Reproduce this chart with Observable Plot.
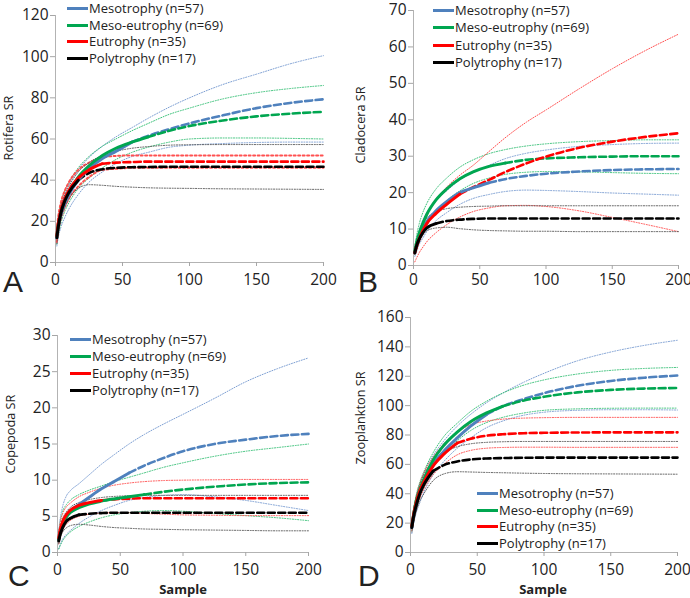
<!DOCTYPE html>
<html>
<head>
<meta charset="utf-8">
<script src="https://cdn.jsdelivr.net/npm/d3@7"></script>
<script src="https://cdn.jsdelivr.net/npm/@observablehq/plot@0.6"></script>
<style>
  html, body { margin: 0; padding: 0; background: #fff; }
  #root { position: relative; width: 690px; height: 598px; font-family: "Open Sans", sans-serif; color: #222; overflow: hidden; }
  .abs { position: absolute; white-space: nowrap; }
  .ytitle { font-size: 12.7px; transform: translate(-50%, -50%) rotate(-90deg); }
  .letter { font-family: "Liberation Sans", Arial, sans-serif; font-size: 30px; line-height: 30px; }
  .xtitle { font-size: 13px; font-weight: bold; transform: translateX(-50%); }
  .leg { display: flex; align-items: center; height: 16px; line-height: 16px; }
  .leg span.l { display: inline-block; width: 21px; height: 3px; margin-right: 1px; }
  .leg span.t { font-size: 13px; }
</style>
</head>
<body>
<div id="root"></div>
<script>
// ---------- data ----------
const sample = [1, 2, 4, 7, 10, 17, 25, 35, 45, 57, 69, 85, 100, 125, 150, 175, 200];
const trophy = ["Mesotrophy (n=57)", "Meso-eutrophy (n=69)", "Eutrophy (n=35)", "Polytrophy (n=17)"];
const nObs = [57, 69, 35, 17];
const xTicks = [0, 50, 100, 150, 200];

// Panel A — Rotifera SR
const rotMeso     = [12, 17, 23, 29, 33, 40, 45.5, 50.5, 54, 58.5, 61.5, 64.8, 67.6, 71.5, 75, 77.5, 79.3];
const rotMesoLo   = [8, 12, 17, 22, 26, 33, 39, 44, 48, 51.5, 53.5, 56, 57, 57.8, 58.3, 58.5, 58.5];
const rotMesoHi   = [15, 21, 28, 34, 38, 45, 51, 56.5, 61, 65.5, 70, 75.5, 80, 86.5, 91.5, 96.5, 100.5];
const rotMesoEu   = [13, 18, 24.5, 30.5, 34.5, 41.5, 47, 52, 55.5, 58.5, 61, 64, 66.3, 69, 71, 72.3, 73.2];
const rotMesoEuLo = [9, 13, 19, 25, 29, 36, 41, 46, 50, 53.5, 56, 58.5, 60, 60.5, 60.5, 60.3, 60];
const rotMesoEuHi = [16, 22, 29, 35, 39, 46, 51.5, 56.5, 60, 64, 67.5, 72, 75, 79.5, 82.5, 84.5, 86];
const rotEu       = [13, 18.5, 25, 31, 35, 41, 45, 48, 48.5, 48.8, 49, 49, 49, 49, 49, 49, 49];
const rotEuLo     = [10, 15, 21, 27, 31, 37, 41.5, 45, 45.5, 46, 46, 46, 46, 46, 46, 46, 46];
const rotEuHi     = [16, 22, 29, 35, 39, 45, 48.5, 51, 51.8, 52, 52, 52, 52, 52, 52, 52, 52];
const rotPoly     = [12, 17, 24, 30, 34, 40, 43.5, 45.3, 46, 46.3, 46.4, 46.5, 46.5, 46.5, 46.5, 46.5, 46.5];
const rotPolyLo   = [9, 14, 21, 27, 31, 36, 37.8, 37.5, 37, 36.6, 36.3, 36.1, 36, 35.8, 35.7, 35.6, 35.5];
const rotPolyHi   = [15, 20, 27, 33, 37, 44, 48.5, 52, 54, 55.5, 56.3, 57, 57.2, 57.3, 57.3, 57.3, 57.3];

// Panel B — Cladocera SR
const claMeso     = [3.5, 5, 7.5, 10, 12, 15, 17.5, 20, 21.3, 22.7, 23.7, 24.6, 25.2, 25.8, 26.2, 26.4, 26.5];
const claMesoLo   = [2.5, 3.5, 5.5, 7.5, 9.3, 12.3, 14.5, 16.8, 18.4, 19.5, 20.3, 20.7, 20.6, 20.3, 19.9, 19.6, 19.3];
const claMesoHi   = [4.5, 6.5, 9.5, 12.5, 14.5, 18, 20.5, 23.5, 25.5, 27.5, 29.3, 30.8, 31.7, 32.7, 33.2, 33.5, 33.6];
const claMesoEu   = [4, 5.8, 8.5, 11.5, 14, 18, 21, 23.8, 25.7, 27.2, 28.1, 29, 29.4, 29.7, 29.9, 30, 30];
const claMesoEuLo = [3, 4.5, 6.5, 9, 11, 14.7, 17.8, 20.5, 22.5, 24, 25, 25.6, 25.8, 25.7, 25.5, 25.3, 25.2];
const claMesoEuHi = [5, 7.5, 11, 14.5, 17, 21, 24, 27, 29, 30.7, 31.8, 32.8, 33.4, 34, 34.3, 34.5, 34.5];
const claEu       = [3.5, 4.8, 7, 9.5, 11.5, 14.3, 16.8, 19.6, 21.5, 23.5, 25.6, 28, 29.9, 32.3, 34, 35.3, 36.3];
const claEuLo     = [1, 1.8, 3.3, 5, 6.5, 9, 11.2, 13.3, 14.8, 15.8, 16.4, 16.5, 16.2, 15, 13.2, 11.3, 9.3];
const claEuHi     = [3.5, 5.5, 8.5, 11.5, 14, 18, 21.5, 24.8, 27.5, 31.3, 35, 39.3, 42.7, 48.5, 54, 59, 63.5];
const claPoly     = [3.5, 5, 7, 9, 10.3, 11.5, 12.2, 12.6, 12.8, 12.9, 12.9, 12.9, 12.9, 12.9, 12.9, 12.9, 12.9];
const claPolyLo   = [3, 4.3, 6, 8.3, 9.5, 10.3, 10.5, 10.1, 9.8, 9.6, 9.5, 9.4, 9.4, 9.3, 9.3, 9.3, 9.3];
const claPolyHi   = [4, 6, 9, 11.5, 13, 14.8, 15.6, 16, 16.2, 16.3, 16.4, 16.4, 16.4, 16.4, 16.4, 16.4, 16.4];

// Panel C — Copepoda SR
const copMeso     = [1.8, 2.7, 3.9, 5, 5.7, 6.6, 7.6, 8.8, 9.8, 11, 12, 13.1, 14, 15, 15.6, 16.1, 16.4];
const copMesoLo   = [0.5, 1, 1.8, 2.5, 3, 4, 4.9, 5.8, 6.5, 7.2, 7.6, 7.9, 8, 7.7, 7.2, 6.5, 5.8];
const copMesoHi   = [3, 4.5, 6.3, 7.8, 8.5, 9.5, 10.7, 12.2, 13.5, 15, 16.3, 17.8, 19.1, 21.3, 23.6, 25.4, 26.9];
const copMesoEu   = [1.8, 2.7, 3.9, 4.9, 5.5, 6.2, 6.7, 7.1, 7.4, 7.7, 8, 8.4, 8.7, 9.1, 9.4, 9.6, 9.7];
const copMesoEuLo = [0.5, 0.9, 1.6, 2.3, 2.8, 3.6, 4.2, 4.8, 5.2, 5.5, 5.7, 5.8, 5.7, 5.4, 5.1, 4.8, 4.4];
const copMesoEuHi = [2.8, 4, 5.6, 6.6, 7.2, 8, 8.6, 9.2, 9.8, 10.4, 11, 11.8, 12.4, 13.3, 14, 14.5, 15];
const copEu       = [2, 3, 4.2, 5.2, 5.8, 6.5, 6.9, 7.2, 7.35, 7.45, 7.5, 7.5, 7.5, 7.5, 7.5, 7.5, 7.5];
const copEuLo     = [1.2, 2, 3, 3.9, 4.4, 5, 5.3, 5.45, 5.5, 5.5, 5.4, 5.3, 5.2, 5.15, 5.1, 5.1, 5.1];
const copEuHi     = [2.8, 4, 5.3, 6.3, 6.8, 7.7, 8.3, 8.9, 9.3, 9.6, 9.8, 9.95, 10, 10.05, 10.1, 10.1, 10.1];
const copPoly     = [1.6, 2.4, 3.4, 4.3, 4.7, 5.2, 5.35, 5.45, 5.5, 5.5, 5.5, 5.5, 5.5, 5.5, 5.5, 5.5, 5.5];
const copPolyLo   = [1.2, 2, 2.8, 3.4, 3.7, 3.9, 3.8, 3.6, 3.45, 3.35, 3.25, 3.2, 3.15, 3.1, 3.05, 3, 3];
const copPolyHi   = [2.2, 3.3, 4.6, 5.6, 6.2, 6.9, 7.3, 7.6, 7.75, 7.85, 7.9, 7.9, 7.9, 7.9, 7.9, 7.9, 7.9];

// Panel D — Zooplankton SR
const zooMeso     = [17, 23, 32, 41, 48, 60, 69, 78, 86, 94, 99.5, 104.5, 108.5, 113.5, 116.8, 119, 120.5];
const zooMesoLo   = [13, 18, 26, 34, 41, 53, 62, 71, 78, 85, 89.5, 93.5, 95.5, 96.8, 97.2, 97.2, 97];
const zooMesoHi   = [20, 27, 37, 47, 54, 66, 76, 86, 94, 102, 108.5, 116, 122, 130.5, 136.5, 141, 144.5];
const zooMesoEu   = [18, 24, 34, 43, 50, 63, 73, 82, 89, 95, 99.5, 103.5, 106, 109, 110.7, 111.6, 112];
const zooMesoEuLo = [15, 20, 29, 38, 45, 58, 67, 76, 83, 88.5, 92, 95, 96.8, 97.8, 98.2, 98.3, 98.3];
const zooMesoEuHi = [21, 28, 38, 48, 55, 68, 79, 88, 96, 103, 108.5, 114, 117.5, 121.5, 124, 125.3, 126];
const zooEu       = [18, 24, 33, 42, 48, 59, 67, 74.5, 77.5, 79.5, 80.5, 81.2, 81.5, 81.7, 81.8, 81.8, 81.8];
const zooEuLo     = [15, 20, 28, 37, 43, 53, 60, 66.5, 69.5, 71, 71.5, 71.7, 71.7, 71.6, 71.6, 71.6, 71.6];
const zooEuHi     = [20, 27, 37, 47, 54, 65, 74, 82, 87, 89.5, 90.8, 91.5, 91.8, 92, 92, 92, 92];
const zooPoly     = [17, 23, 31, 40, 46, 55.5, 59.5, 62, 63.3, 64, 64.3, 64.5, 64.6, 64.6, 64.6, 64.6, 64.6];
const zooPolyLo   = [14, 19, 27, 35, 40, 49, 53.5, 55, 54.8, 54.5, 54.3, 54, 53.8, 53.6, 53.5, 53.4, 53.3];
const zooPolyHi   = [20, 27, 36, 46, 53, 62, 68, 72, 74, 75, 75.4, 75.6, 75.6, 75.6, 75.6, 75.6, 75.6];

const yTicksA = [0, 20, 40, 60, 80, 100, 120];
const yTicksB = [0, 10, 20, 30, 40, 50, 60, 70];
const yTicksC = [0, 5, 10, 15, 20, 25, 30];
const yTicksD = [0, 20, 40, 60, 80, 100, 120, 140, 160];

// ---------- styles ----------
const colors   = ["#4f81bd", "#00a650", "#ff0000", "#000000"];
const ciColors = ["#7d9fd3", "#3cc27a", "#ff5050", "#5a5a5a"];

const root = document.getElementById("root");
const rows = arr => sample.map((x, i) => ({x, y: arr[i]}));

function panel(cfg) {
  const marks = [
    Plot.ruleX([0], {stroke: "#b3b3b3"}),
    Plot.ruleY([0], {stroke: "#b3b3b3"})
  ];
  cfg.series.forEach((s, i) => {
    const w = (cfg.redCiWide && i === 2) ? 2 : 1;
    const dash = (cfg.redCiWide && i === 2) ? "2,2.5" : "1,1.6";
    for (const b of [s[1], s[2]]) {
      marks.push(Plot.line(rows(b), {x: "x", y: "y", stroke: ciColors[i], strokeWidth: w, strokeDasharray: dash, curve: "monotone-x"}));
    }
  });
  cfg.series.forEach((s, i) => {
    marks.push(Plot.line(rows(s[0]).filter(d => d.x >= nObs[i]), {x: "x", y: "y", stroke: colors[i], strokeWidth: 2.6, strokeDasharray: "7,3.5", curve: "monotone-x"}));
  });
  cfg.series.forEach((s, i) => {
    marks.push(Plot.line(rows(s[0]).filter(d => d.x <= nObs[i]), {x: "x", y: "y", stroke: colors[i], strokeWidth: 3, curve: "monotone-x"}));
  });
  marks.push(Plot.axisY({ticks: cfg.yTicks, tickSize: 5, tickPadding: 2, stroke: "#a6a6a6", fill: "#222", fontSize: 15.5, label: null, tickFormat: d => String(d)}));
  marks.push(Plot.axisX({ticks: xTicks, tickSize: 4, tickPadding: cfg.padX, stroke: "#a6a6a6", fill: "#222", fontSize: 15.5, label: null, tickFormat: d => String(d)}));

  const svg = Plot.plot({
    width: cfg.w, height: cfg.h,
    marginLeft: cfg.ml, marginRight: cfg.mr, marginTop: cfg.mt, marginBottom: cfg.mb,
    x: {domain: [0, 200]},
    y: {domain: [0, cfg.ymax]},
    style: {fontFamily: "Open Sans, sans-serif", background: "none", overflow: "visible"},
    marks
  });
  svg.style.position = "absolute";
  svg.style.left = cfg.left + "px";
  svg.style.top = cfg.top + "px";
  root.appendChild(svg);

  const t = document.createElement("div");
  t.className = "abs ytitle";
  t.style.left = cfg.title[1] + "px";
  t.style.top = cfg.title[2] + "px";
  t.textContent = cfg.title[0];
  root.appendChild(t);

  const L = document.createElement("div");
  L.className = "abs letter";
  L.style.left = cfg.letter[1] + "px";
  L.style.top = cfg.letter[2] + "px";
  L.textContent = cfg.letter[0];
  root.appendChild(L);

  if (cfg.xtitle) {
    const X = document.createElement("div");
    X.className = "abs xtitle";
    X.style.left = cfg.xtitle[0] + "px";
    X.style.top = cfg.xtitle[1] + "px";
    X.textContent = "Sample";
    root.appendChild(X);
  }

  trophy.forEach((lab, i) => {
    const r = document.createElement("div");
    r.className = "abs leg";
    r.style.left = cfg.legend[0] + "px";
    r.style.top = Math.round(cfg.legend[1] + i * cfg.legend[2] - 8) + "px";
    const ln = document.createElement("span");
    ln.className = "l";
    ln.style.background = colors[i];
    r.appendChild(ln);
    const tx = document.createElement("span");
    tx.className = "t";
    tx.textContent = lab;
    r.appendChild(tx);
    root.appendChild(r);
  });
}

panel({
  left: 0, top: 0, w: 345, h: 300, ml: 55, mr: 22, mt: 15, mb: 38, ymax: 120, yTicks: yTicksA, padX: 7, redCiWide: true,
  series: [[rotMeso, rotMesoLo, rotMesoHi], [rotMesoEu, rotMesoEuLo, rotMesoEuHi], [rotEu, rotEuLo, rotEuHi], [rotPoly, rotPolyLo, rotPolyHi]],
  title: ["Rotifera SR", 8, 128], letter: ["A", 3, 267], legend: [67, 8, 16.7]
});
panel({
  left: 345, top: 0, w: 345, h: 300, ml: 68, mr: 12, mt: 10, mb: 35, ymax: 70, yTicks: yTicksB, padX: 4,
  series: [[claMeso, claMesoLo, claMesoHi], [claMesoEu, claMesoEuLo, claMesoEuHi], [claEu, claEuLo, claEuHi], [claPoly, claPolyLo, claPolyHi]],
  title: ["Cladocera SR", 360, 125], letter: ["B", 358, 267], legend: [433, 10, 17.3]
});
panel({
  left: 0, top: 300, w: 345, h: 298, ml: 57, mr: 37, mt: 35, mb: 46, ymax: 30, yTicks: yTicksC, padX: 7,
  series: [[copMeso, copMesoLo, copMesoHi], [copMesoEu, copMesoEuLo, copMesoEuHi], [copEu, copEuLo, copEuHi], [copPoly, copPolyLo, copPolyHi]],
  title: ["Copepoda SR", 10, 434], letter: ["C", 8, 561], legend: [70, 339, 17], xtitle: [183, 580]
});
panel({
  left: 345, top: 300, w: 345, h: 298, ml: 65, mr: 13, mt: 17, mb: 46, ymax: 160, yTicks: yTicksD, padX: 7,
  series: [[zooMeso, zooMesoLo, zooMesoHi], [zooMesoEu, zooMesoEuLo, zooMesoEuHi], [zooEu, zooEuLo, zooEuHi], [zooPoly, zooPolyLo, zooPolyHi]],
  title: ["Zooplankton SR", 360, 418], letter: ["D", 358, 561], legend: [477, 493, 16.7], xtitle: [543, 580]
});
</script>
</body>
</html>
